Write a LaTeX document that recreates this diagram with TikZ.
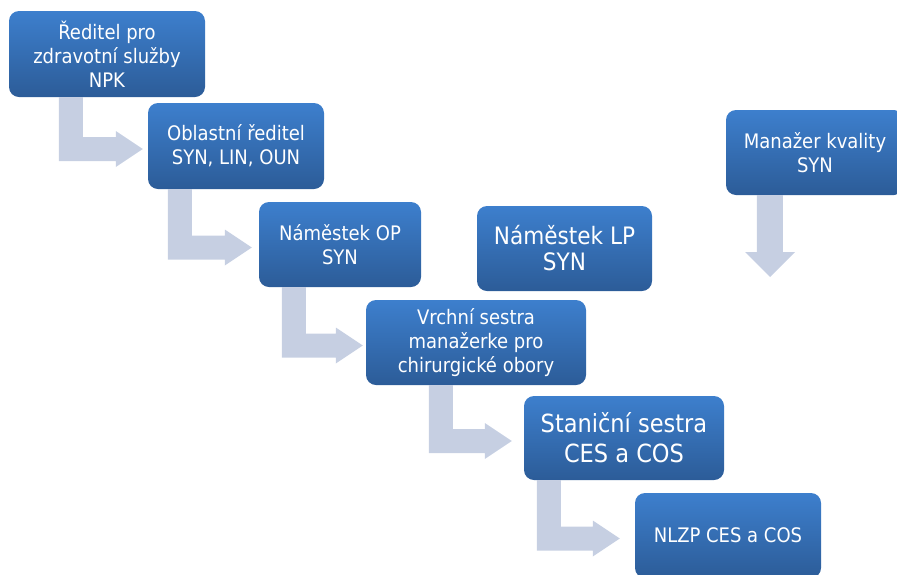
\documentclass[tikz,border=0pt]{standalone}
\usepackage{fontspec}
\setmainfont{DejaVu Sans Condensed}
\usetikzlibrary{calc}
\definecolor{boxtop}{RGB}{61,127,205}
\definecolor{boxbot}{RGB}{44,92,152}
\definecolor{arrowgray}{RGB}{198,207,226}
\tikzset{
  orgbox/.style={rounded corners=10pt, top color=boxtop, bottom color=boxbot,
    text=white, align=center, inner sep=0pt, minimum height=85pt,
    font=\fontsize{20}{24}\selectfont},
  bigtext/.style={font=\fontsize{24}{26}\selectfont}
}

\begin{document}
\begin{tikzpicture}[x=1pt,y=-1pt]
\useasboundingbox (0,0) rectangle (897,574);
% boxes
\node[orgbox, minimum width=196pt, minimum height=86pt] (npk) at (107,54) {Ředitel pro\\zdravotní služby\\NPK};
\node[orgbox, minimum width=176pt, minimum height=86pt] (obl) at (236,146) {Oblastní ředitel\\SYN, LIN, OUN};
\node[orgbox, minimum width=162pt] (namop) at (340,244.5) {Náměstek OP\\SYN};
\node[orgbox, bigtext, minimum width=175pt] (namlp) at (564.5,248.5) {Náměstek LP\\SYN};
\node[orgbox, minimum width=178pt] (kval) at (815,152.5) {Manažer kvality\\SYN};
\node[orgbox, minimum width=220pt] (vrch) at (476,342.5) {Vrchní sestra\\manažerke pro\\chirurgické obory};
\node[orgbox, minimum width=200pt, minimum height=84pt, font=\fontsize{25}{30}\selectfont] (stan) at (624,438) {Staniční sestra\\CES a COS};
\node[orgbox, minimum width=186pt] (nlzp) at (728,535.5) {NLZP CES a COS};
% bent arrows
\foreach \src/\dst/\dx/\gap in {npk/obl/50/5, obl/namop/20/7, namop/vrch/23/3, vrch/stan/63/12, stan/nlzp/13/15}
{	\fill[arrowgray] let \p1=($(\src.south west)+(\dx,0)$), \p2=($(\dst.west)+(-\gap,3)$) in
	(\x1,\y1) -- (\x1+24,\y1) -- (\x1+24,\y2+12) -- (\x2-27,\y2+12) -- (\x2-27,\y2+18)
	-- (\x2,\y2) -- (\x2-27,\y2-18) -- (\x2-27,\y2-12) -- (\x1,\y2-12) -- cycle;
}
% down arrow
\coordinate (kvtip) at (770,277);
\fill[arrowgray] let \p1=($(kval.south west)+(31,0)$), \p2=(kvtip) in
	(\x1,\y1) -- (\x1+26,\y1) -- (\x1+26,\y2+25) -- (\x2+25,\y2+25) -- (\x2,\y2)
	-- (\x2-25,\y2+25) -- (\x1,\y2+25) -- cycle;
\end{tikzpicture}
\end{document}
